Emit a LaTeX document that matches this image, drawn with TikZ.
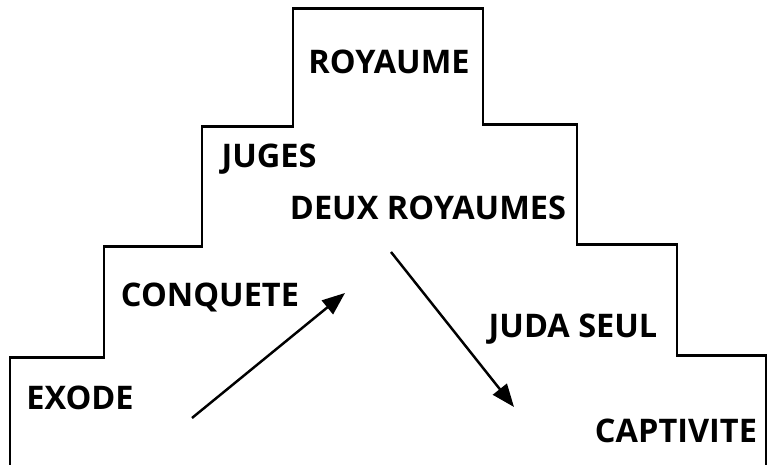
\documentclass[tikz,border=0pt]{standalone}
\usepackage{fontspec}
\setmainfont{Open Sans}
\usetikzlibrary{arrows.meta}

\begin{document}
\begin{tikzpicture}[x=0.02cm, y=0.02cm,
    era/.style={anchor=base, inner sep=0pt, font=\fontsize{18.5}{20}\selectfont\bfseries},
    march/.style={line width=1.4pt, -{Triangle[length=13pt, width=10pt]}}]
    \useasboundingbox (0,0) rectangle (772,465);

    % Stairs
    \draw[line width=1.7pt, line join=miter]
        (10,0) -- (10,107) -- (104,107) -- (104,218) -- (202,218) -- (202,338)
        -- (293,338) -- (293,456) -- (483,456) -- (483,340) -- (577,340)
        -- (577,220) -- (677,220) -- (677,109) -- (766,109) -- (766,0);

    % Steps
    \node[era] (royaume) at (389,391) {ROYAUME};
    \node[era] (juges) at (269,297) {JUGES};
    \node[era] (deux) at (428,245) {DEUX ROYAUMES};
    \node[era] (conquete) at (210,158) {CONQUETE};
    \node[era] (exode) at (80,55) {EXODE};
    \node[era] (juda) at (573,127) {JUDA SEUL};
    \node[era] (captivite) at (676,22) {CAPTIVITE};

    % Rise and fall
    \coordinate (upstart) at (192,47);
    \coordinate (upend) at (345,172);
    \coordinate (downstart) at (391,213);
    \coordinate (downend) at (514,58);
    \draw[march] (upstart) -- (upend);
    \draw[march] (downstart) -- (downend);
\end{tikzpicture}
\end{document}
